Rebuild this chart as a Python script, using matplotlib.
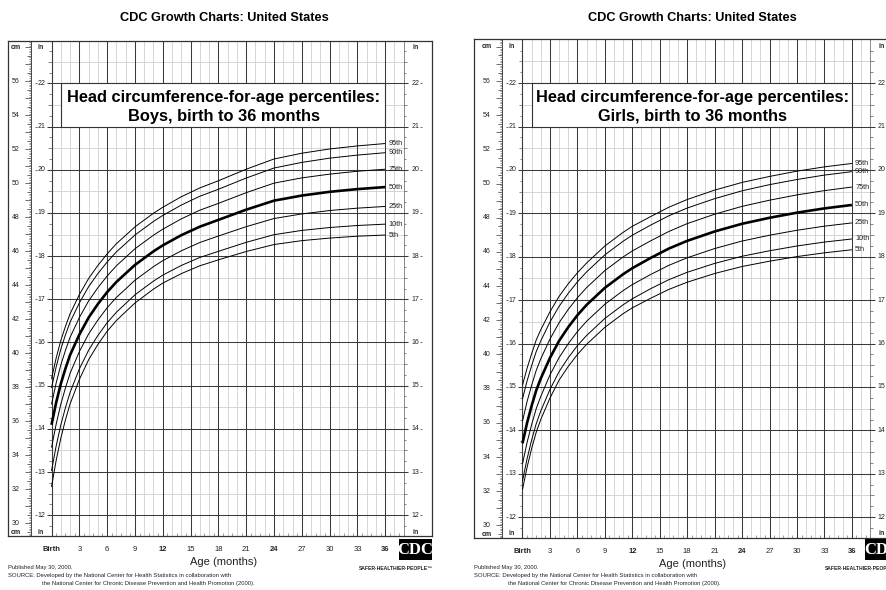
import matplotlib
matplotlib.use("Agg")
import matplotlib.pyplot as plt
import numpy as np
from matplotlib.patches import Rectangle

plt.rcParams['font.family'] = ['Liberation Sans', 'DejaVu Sans']

W, H = 887, 590

# ---------------- data (head circumference, cm) ----------------
ages = [0, 0.5, 1, 1.5, 2, 3, 4, 5, 6, 7, 8, 9, 10, 11, 12, 14, 16, 18, 21, 24, 27, 30, 33, 36]

boys_p95 = [38.50, 39.72, 40.75, 41.58, 42.32, 43.45, 44.40, 45.17, 45.85, 46.45, 46.94, 47.44, 47.84, 48.24, 48.59, 49.21, 49.73, 50.15, 50.83, 51.43, 51.77, 52.02, 52.20, 52.34]
boys_p90 = [37.97, 39.20, 40.24, 41.08, 41.83, 42.96, 43.92, 44.69, 45.37, 45.97, 46.46, 46.96, 47.36, 47.76, 48.11, 48.72, 49.24, 49.65, 50.31, 50.90, 51.23, 51.48, 51.66, 51.80]
boys_p75 = [37.00, 38.25, 39.31, 40.17, 40.94, 42.10, 43.08, 43.86, 44.55, 45.15, 45.65, 46.15, 46.55, 46.95, 47.30, 47.91, 48.42, 48.82, 49.45, 50.01, 50.32, 50.54, 50.71, 50.83]
boys_p50 = [35.80, 37.10, 38.20, 39.10, 39.90, 41.10, 42.10, 42.90, 43.60, 44.20, 44.70, 45.20, 45.60, 46.00, 46.35, 46.95, 47.45, 47.85, 48.45, 48.98, 49.28, 49.50, 49.66, 49.78]
boys_p25 = [34.46, 35.83, 37.00, 37.96, 38.82, 40.10, 41.14, 41.96, 42.68, 43.29, 43.79, 44.30, 44.70, 45.10, 45.45, 46.03, 46.52, 46.90, 47.45, 47.93, 48.20, 48.40, 48.54, 48.64]
boys_p10 = [33.08, 34.55, 35.78, 36.80, 37.70, 39.08, 40.18, 41.05, 41.80, 42.42, 42.93, 43.44, 43.85, 44.25, 44.60, 45.17, 45.64, 46.00, 46.53, 46.98, 47.23, 47.40, 47.52, 47.60]
boys_p5 = [32.15, 33.70, 35.00, 36.08, 37.02, 38.46, 39.62, 40.52, 41.30, 41.93, 42.45, 42.96, 43.37, 43.78, 44.13, 44.69, 45.15, 45.50, 45.99, 46.40, 46.63, 46.78, 46.89, 46.96]

girls_p95 = [38.20, 39.20, 40.05, 40.85, 41.45, 42.50, 43.40, 44.14, 44.78, 45.35, 45.85, 46.35, 46.75, 47.15, 47.50, 48.07, 48.62, 49.07, 49.62, 50.07, 50.42, 50.73, 50.98, 51.18]
girls_p90 = [37.40, 38.45, 39.35, 40.17, 40.80, 41.90, 42.82, 43.58, 44.25, 44.83, 45.33, 45.83, 46.23, 46.63, 46.98, 47.57, 48.12, 48.57, 49.12, 49.58, 49.94, 50.24, 50.50, 50.70]
girls_p75 = [36.10, 37.25, 38.20, 39.07, 39.75, 40.90, 41.86, 42.64, 43.32, 43.91, 44.41, 44.91, 45.31, 45.71, 46.06, 46.65, 47.20, 47.66, 48.21, 48.67, 49.03, 49.34, 49.59, 49.80]
girls_p50 = [34.80, 36.00, 37.00, 37.90, 38.60, 39.80, 40.80, 41.60, 42.30, 42.90, 43.40, 43.90, 44.30, 44.70, 45.05, 45.65, 46.20, 46.65, 47.20, 47.65, 48.00, 48.30, 48.55, 48.75]
girls_p25 = [33.60, 34.85, 35.90, 36.83, 37.55, 38.80, 39.82, 40.63, 41.34, 41.94, 42.44, 42.94, 43.34, 43.74, 44.09, 44.68, 45.22, 45.66, 46.20, 46.64, 46.98, 47.27, 47.51, 47.70]
girls_p10 = [32.60, 33.90, 35.00, 35.95, 36.70, 37.95, 39.00, 39.81, 40.52, 41.11, 41.61, 42.11, 42.51, 42.91, 43.26, 43.85, 44.38, 44.81, 45.33, 45.75, 46.07, 46.35, 46.58, 46.76]
girls_p5 = [32.10, 33.40, 34.50, 35.45, 36.20, 37.45, 38.50, 39.30, 40.00, 40.59, 41.09, 41.59, 41.99, 42.39, 42.73, 43.29, 43.81, 44.23, 44.74, 45.15, 45.46, 45.73, 45.95, 46.13]

percentile_names = ['95th', '90th', '75th', '50th', '25th', '10th', '5th']
tick_months = [0, 3, 6, 9, 12, 15, 18, 21, 24, 27, 30, 33, 36]
tick_labels = ['Birth', '3', '6', '9', '12', '15', '18', '21', '24', '27', '30', '33', '36']
bold_ticks = ['Birth', '12', '24', '36']
page_title = 'CDC Growth Charts: United States'
chart_titles = ['Head circumference-for-age percentiles:\nBoys, birth to 36 months',
                'Head circumference-for-age percentiles:\nGirls, birth to 36 months']
footer_lines = ['Published May 30, 2000.',
                'SOURCE: Developed by the National Center for Health Statistics in collaboration with',
                'the National Center for Chronic Disease Prevention and Health Promotion (2000).']

fig = plt.figure(figsize=(W / 100, H / 100), dpi=100)
fig.patch.set_facecolor('white')

DARK = '#3a3a3a'
LIGHT = '#cfcfcf'
TXT = '#222222'


def fig_xy(px, py):
    return px / W, 1 - py / H


def panel(series, title, frame_l, frame_r, frame_t, frame_b, plot_l, ppm, y_top, y_bot):
    ax = fig.add_axes([frame_l / W, 1 - frame_b / H, (frame_r - frame_l) / W, (frame_b - frame_t) / H])
    x0 = (frame_l - plot_l) / ppm
    x1 = (frame_r - plot_l) / ppm
    ax.set_xlim(x0, x1)
    ax.set_ylim(y_bot, y_top)
    ppi = (frame_b - frame_t) / (y_top - y_bot)   # pixels per inch
    mx = lambda p: p / ppm                        # pixel offset -> months
    iy = lambda p: p / ppi                        # pixel offset -> inches
    XR = 38.0

    for s in ax.spines.values():
        s.set_color('#333333')
        s.set_linewidth(0.9)
    ax.set_yticks([])

    # vertical grid
    for m in range(1, 38):
        if m % 3:
            ax.vlines(m, y_bot, y_top, color=LIGHT, lw=0.6, zorder=1)
    for m in range(3, 37, 3):
        ax.vlines(m, y_bot, y_top, color=DARK, lw=0.75, zorder=2)
    ax.vlines(0, y_bot, y_top, color=DARK, lw=0.8, zorder=2)
    ax.vlines(XR, y_bot, y_top, color='#8a8a8a', lw=0.7, zorder=2)

    # horizontal grid (inches)
    for k in range(23, 46):
        v = k / 2
        if k % 2:
            ax.hlines(v, 0, XR, color=LIGHT, lw=0.6, zorder=1)
        else:
            ax.hlines(v, mx(-4.5), XR + mx(4.5), color=DARK, lw=0.75, zorder=2)

    # bottom half-month ticks
    for m in range(0, 38):
        ax.vlines(m + 0.5, y_bot, y_bot + iy(3), color='#777777', lw=0.5, zorder=2)

    # cm ruler
    cmx = mx(-20.5)
    ax.vlines(cmx, y_bot, y_top, color='#444444', lw=0.7)
    for mm in range(292, 586):
        v = mm / 10 / 2.54
        if v < y_bot or v > y_top:
            continue
        L = 6 if mm % 10 == 0 else (4 if mm % 5 == 0 else 2)
        ax.hlines(v, cmx - mx(L), cmx, color='#555555', lw=0.45 if L == 2 else 0.6)
    for c in range(30, 58, 2):
        ax.text(mx(-35.5), c / 2.54, str(c), fontsize=5, ha='center', va='center', color=TXT)
    ax.text(mx(-35.5), 58 / 2.54, 'cm', fontsize=5, fontweight='bold', ha='center', va='center', color=TXT)
    ax.text(mx(-35.5), y_bot + iy(3.5), 'cm', fontsize=5, fontweight='bold', ha='center', va='center', color=TXT)

    # inch rulers (left and right)
    for q in range(47, 92):
        v = q / 4
        if q % 4:
            L = 3.5 if q % 2 == 0 else 2.5
            ax.hlines(v, -mx(L), 0, color='#555555', lw=0.5)
            ax.hlines(v, XR, XR + mx(L), color='#555555', lw=0.5)
    for i in range(12, 23):
        ax.text(mx(-10), i, str(i), fontsize=5, ha='center', va='center', color=TXT)
        ax.hlines(i, mx(-16.5), mx(-14.5), color='#555555', lw=0.6)
        ax.text(XR + mx(11.5), i, str(i), fontsize=5, ha='center', va='center', color=TXT)
        ax.hlines(i, XR + mx(16.5), XR + mx(18.5), color='#555555', lw=0.6)
    for xx in (mx(-11), XR + mx(11.5)):
        ax.text(xx, 58 / 2.54, 'in', fontsize=5, fontweight='bold', ha='center', va='center', color=TXT)
        ax.text(xx, y_bot + iy(4), 'in', fontsize=5, fontweight='bold', ha='center', va='center', color=TXT)

    # percentile curves
    for name, vals in zip(percentile_names, series):
        yin = np.array(vals) / 2.54
        ax.plot(ages, yin, color='black', lw=1.9 if name == '50th' else 0.7,
                solid_capstyle='butt', zorder=5)
        ax.text(36.35, yin[-1], name, fontsize=5.3, ha='left', va='center', color=TXT, zorder=6)

    # title box
    ax.add_patch(Rectangle((1, 21), 35, 1, facecolor='white', edgecolor='#333333', lw=0.8, zorder=7))
    l1, l2 = title.split('\n')
    ax.text(18.6, 21.575, l1, fontsize=11.75, fontweight='bold', ha='center', va='baseline', zorder=8)
    ax.text(18.6, 21.135, l2, fontsize=11.75, fontweight='bold', ha='center', va='baseline', zorder=8)

    # x ticks
    ax.set_xticks(tick_months)
    ax.set_xticklabels(tick_labels)
    ax.tick_params(axis='x', length=0, pad=7.5, labelsize=5.5, labelcolor=TXT)
    for t in ax.get_xticklabels():
        if t.get_text() in bold_ticks:
            t.set_fontweight('bold')
    ax.text(18.6, y_bot - iy(26), 'Age (months)', fontsize=8, ha='center', va='center',
            color=TXT, clip_on=False)

    # page title
    cx = plot_l + 18.6 * ppm
    fig.text(*fig_xy(cx, 18), page_title, fontsize=9.2, fontweight='bold', ha='center', va='center')

    # footer
    fig.text(*fig_xy(frame_l, 567), footer_lines[0], fontsize=4.2, ha='left', va='center', color=TXT)
    fig.text(*fig_xy(frame_l, 576), footer_lines[1], fontsize=4.2, ha='left', va='center', color=TXT)
    fig.text(*fig_xy(frame_l + 34, 584), footer_lines[2], fontsize=4.2, ha='left', va='center', color=TXT)

    # CDC logo
    lx = plot_l + XR * ppm - 5
    fig.patches.append(Rectangle(fig_xy(lx, 560), 33 / W, 21 / H, transform=fig.transFigure,
                                 facecolor='black', edgecolor='none'))
    fig.text(*fig_xy(lx + 16.5, 550), 'CDC', fontsize=12, fontweight='bold', family='Liberation Serif',
             color='white', ha='center', va='center')
    fig.text(*fig_xy(lx + 34, 568), 'SAFER\u00b7HEALTHIER\u00b7PEOPLE\u2122', fontsize=3.6, fontweight='bold',
             ha='right', va='center', color=TXT)
    return ax


boys = [boys_p95, boys_p90, boys_p75, boys_p50, boys_p25, boys_p10, boys_p5]
girls = [girls_p95, girls_p90, girls_p75, girls_p50, girls_p25, girls_p10, girls_p5]

panel(boys, chart_titles[0], 8, 432, 41, 536, 51.5, 9.27, 22.98, 11.52)
panel(girls, chart_titles[1], 474, 899, 39.3, 538, 522.5, 9.15, 23.01, 11.52)

fig.savefig('out.png', dpi=100, facecolor='white')
